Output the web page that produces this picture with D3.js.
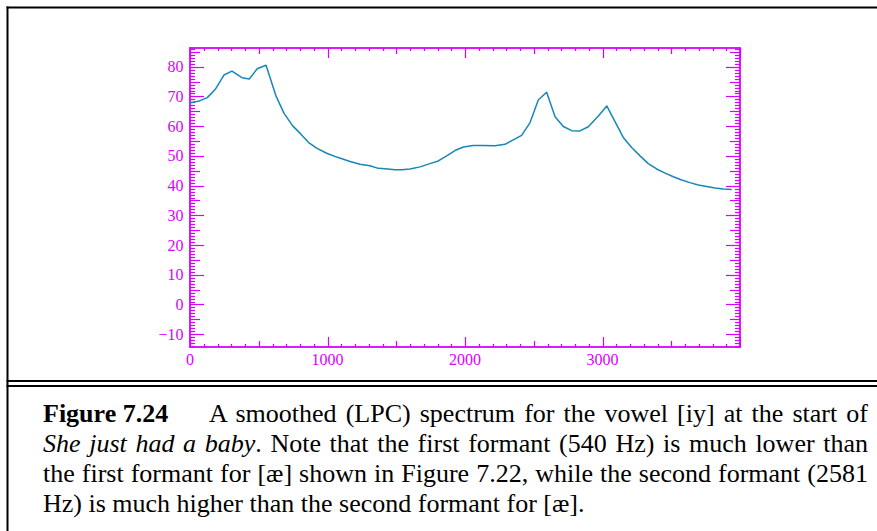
<!DOCTYPE html>
<html>
<head>
<meta charset="utf-8">
<script src="https://cdn.jsdelivr.net/npm/d3@7"></script>
<style>
  html, body { margin: 0; padding: 0; background: #ffffff; }
  svg { display: block; }
</style>
</head>
<body>
<div id="chart"></div>
<script>
// ---- data ----
const freqHz = [0, 68, 126, 184, 247, 305, 378, 431, 489, 553, 625, 684, 747, 805, 863, 921, 994, 1067,
  1164, 1236, 1309, 1369, 1418, 1491, 1540, 1600, 1673, 1745, 1806, 1867, 1927, 1988, 2060, 2133, 2218,
  2291, 2351, 2412, 2473, 2533, 2594, 2655, 2715, 2776, 2836, 2897, 2970, 3031, 3091, 3151,
  3212, 3273, 3333, 3394, 3455, 3515, 3576, 3636, 3697, 3758, 3818, 3879, 3940];
const levelDb = [67.9, 68.5, 69.6, 72.4, 77.2, 78.5, 76.3, 75.9, 79.3, 80.5, 70.2, 64.3, 60.1, 57.4, 54.5, 52.6, 50.9, 49.6,
  48.1, 47.2, 46.7, 45.8, 45.7, 45.3, 45.3, 45.6, 46.3, 47.4, 48.3, 50.0, 51.8, 53.0, 53.5, 53.5, 53.4,
  53.9, 55.4, 56.9, 61.2, 68.8, 71.4, 63.2, 59.9, 58.5, 58.4, 59.8, 63.4, 66.8, 61.5, 56.2,
  52.8, 50.0, 47.4, 45.6, 44.2, 43.0, 41.9, 41.0, 40.2, 39.7, 39.2, 38.9, 38.7];
const xTickValues = [0, 1000, 2000, 3000];
const yTickValues = [-10, 0, 10, 20, 30, 40, 50, 60, 70, 80];
const xDomain = [0, 4000];
const yDomain = [-14.3, 86.3];

const W = 877, H = 531;
const AX = "#d900ff";
const LINE = "#1687b6";
const plot = { left: 190, right: 740, top: 48, bottom: 347 };

const svg = d3.select("#chart").append("svg").attr("width", W).attr("height", H);
svg.append("rect").attr("width", W).attr("height", H).attr("fill", "#fff");

const x = d3.scaleLinear().domain(xDomain).range([plot.left, plot.right]);
const y = d3.scaleLinear().domain(yDomain).range([plot.bottom, plot.top]);

// ---- figure frame ----
svg.append("line").attr("x1", 6.5).attr("x2", W).attr("y1", 7.5).attr("y2", 7.5)
  .attr("stroke", "#000").attr("stroke-width", 2);
svg.append("line").attr("x1", 7.5).attr("x2", 7.5).attr("y1", 6.5).attr("y2", H)
  .attr("stroke", "#000").attr("stroke-width", 2);
[381, 386].forEach(yy => {
  svg.append("line").attr("x1", 6.5).attr("x2", W).attr("y1", yy).attr("y2", yy)
    .attr("stroke", "#000").attr("stroke-width", 2);
});

// ---- axes ----
const g = svg.append("g");
const xMinor = d3.range(xDomain[0], xDomain[1] + 1, 100);
const yMinor = d3.range(Math.ceil(yDomain[0]), Math.floor(yDomain[1]) + 1, 1);
function xLen(v) { return v % 1000 === 0 ? 10 : (v % 500 === 0 ? 6 : 3); }
function yLen(v) { return v % 10 === 0 ? 14 : (v % 5 === 0 ? 10 : 5); }

const tg = g.append("g").attr("stroke", AX).attr("stroke-width", 1.2);
xMinor.forEach(v => {
  const xx = Math.round(x(v)) + 0.5;
  tg.append("line").attr("x1", xx).attr("x2", xx).attr("y1", plot.bottom).attr("y2", plot.bottom - xLen(v));
  tg.append("line").attr("x1", xx).attr("x2", xx).attr("y1", plot.top).attr("y2", plot.top + xLen(v));
});
yMinor.forEach(v => {
  const yy = Math.round(y(v)) + 0.5;
  tg.append("line").attr("y1", yy).attr("y2", yy).attr("x1", plot.left).attr("x2", plot.left + yLen(v));
  tg.append("line").attr("y1", yy).attr("y2", yy).attr("x1", plot.right).attr("x2", plot.right - yLen(v));
});

g.append("rect").attr("x", plot.left).attr("y", plot.top)
  .attr("width", plot.right - plot.left).attr("height", plot.bottom - plot.top)
  .attr("fill", "none").attr("stroke", AX).attr("stroke-width", 1.8);

const lab = g.append("g").attr("fill", AX)
  .attr("font-family", "'Liberation Serif', 'Times New Roman', serif").attr("font-size", 16);
lab.selectAll(".xl").data(xTickValues).enter().append("text")
  .attr("x", d => x(d)).attr("y", 365).attr("text-anchor", "middle").text(d => d);
lab.selectAll(".yl").data(yTickValues).enter().append("text")
  .attr("x", 183.5).attr("y", d => y(d) + 5.5).attr("text-anchor", "end")
  .text(d => d < 0 ? "\u2212" + Math.abs(d) : d);

// ---- spectrum line ----
const pts = freqHz.map((f, i) => [f, levelDb[i]]);
g.append("path").datum(pts)
  .attr("fill", "none").attr("stroke", LINE).attr("stroke-width", 1.5).attr("stroke-linejoin", "round")
  .attr("d", d3.line().x(d => x(d[0])).y(d => y(d[1])));

// ---- caption ----
const cap = svg.append("g").attr("font-family", "'Liberation Serif', 'Times New Roman', serif")
  .attr("font-size", 26).attr("fill", "#000");
function justify(t, target) {
  const node = t.node();
  const len = node.getComputedTextLength();
  const spaces = (node.textContent.match(/ /g) || []).length;
  if (spaces > 0) t.attr("word-spacing", (target - len) / spaces);
}
const rightEdge = 868, leftEdge = 43;
cap.append("text").attr("x", leftEdge).attr("y", 421.5).attr("font-weight", "bold").text("Figure 7.24");
const l1 = cap.append("text").attr("x", 209).attr("y", 421.5)
  .text("A smoothed (LPC) spectrum for the vowel [iy] at the start of");
justify(l1, rightEdge - 209);
const l2 = cap.append("text").attr("x", leftEdge).attr("y", 451.5);
l2.append("tspan").attr("font-style", "italic").text("She just had a baby");
l2.append("tspan").text(". Note that the first formant (540 Hz) is much lower than");
justify(l2, rightEdge - leftEdge);
const l3 = cap.append("text").attr("x", leftEdge).attr("y", 481.5)
  .text("the first formant for [æ] shown in Figure 7.22, while the second formant (2581");
justify(l3, rightEdge - leftEdge);
cap.append("text").attr("x", leftEdge).attr("y", 511.5)
  .text("Hz) is much higher than the second formant for [æ].");
</script>
</body>
</html>
